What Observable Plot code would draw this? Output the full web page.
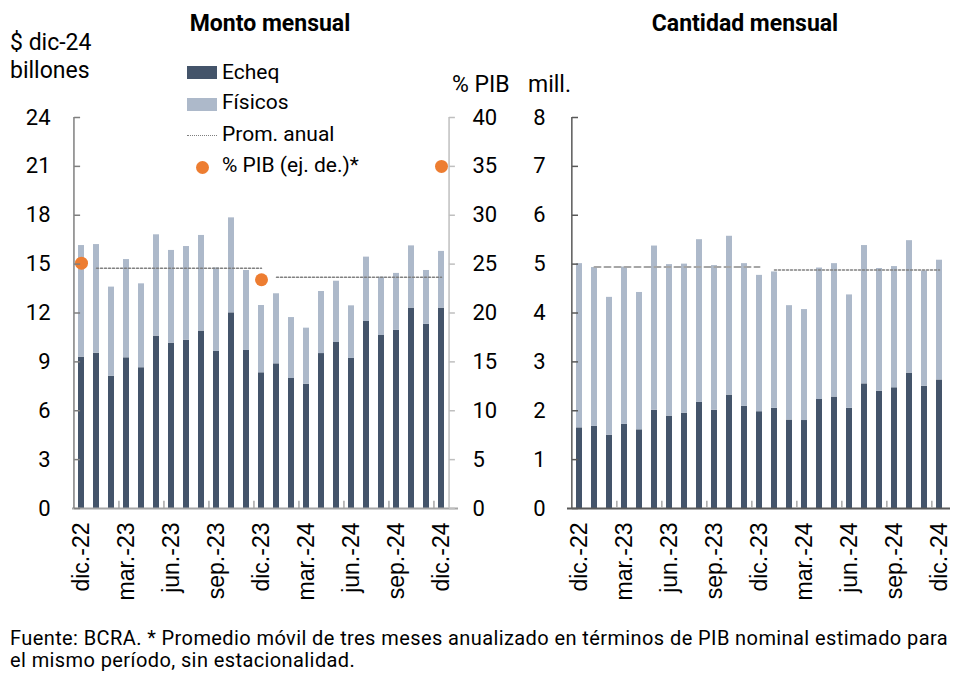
<!DOCTYPE html>
<html>
<head>
<meta charset="utf-8">
<script src="https://cdn.jsdelivr.net/npm/d3@7"></script>
<script src="https://cdn.jsdelivr.net/npm/@observablehq/plot@0.6"></script>
<style>
  body { margin: 0; background: #fff; }
  #wrap { position: relative; width: 960px; height: 679px; font-family: Roboto, sans-serif; color: #000; overflow: hidden; }
  .t { position: absolute; white-space: nowrap; line-height: 1; }
  .chart { position: absolute; top: 0; }
</style>
</head>
<body>
<div id="wrap">
  <div id="left" class="chart" style="left:0"></div>
  <div id="right" class="chart" style="left:480px"></div>
  <div class="t" style="left:0;width:540px;text-align:center;top:11.6px;font-size:23px;font-weight:bold;">Monto mensual</div>
  <div class="t" style="left:545px;width:400px;text-align:center;top:11.6px;font-size:23px;font-weight:bold;">Cantidad mensual</div>
  <div class="t" style="left:10px;top:30.6px;font-size:23px;">$ dic-24</div>
  <div class="t" style="left:10px;top:58.6px;font-size:23px;">billones</div>
  <div class="t" style="left:452px;top:72.6px;font-size:23px;">% PIB</div>
  <div class="t" style="left:528px;top:72.6px;font-size:23px;">mill.</div>
  <!-- legend -->
  <div style="position:absolute;left:187px;top:66px;width:30px;height:13px;background:#44546a"></div>
  <div style="position:absolute;left:187px;top:98px;width:30px;height:13px;background:#adb9ca"></div>
  <div style="position:absolute;left:187px;top:135px;width:30px;height:0;border-top:1.5px dotted #7f7f7f"></div>
  <div style="position:absolute;left:195.5px;top:160.5px;width:13px;height:13px;border-radius:50%;background:#ed7d31"></div>
  <div class="t" style="left:222px;top:62.3px;font-size:21px;">Echeq</div>
  <div class="t" style="left:222px;top:92.3px;font-size:21px;">Físicos</div>
  <div class="t" style="left:222px;top:124.3px;font-size:21px;">Prom. anual</div>
  <div class="t" style="left:222px;top:155.3px;font-size:21px;">% PIB (ej. de.)*</div>
  <div class="t" style="left:10px;top:627.2px;font-size:20px;line-height:22px;">
    <span id="f1">Fuente: BCRA. * Promedio móvil de tres meses anualizado en términos de PIB nominal estimado para</span><br>
    <span id="f2">el mismo período, sin estacionalidad.</span>
  </div>
</div>
<script>
// ---------- data ----------
const months = ["dic.-22","ene.-23","feb.-23","mar.-23","abr.-23","may.-23","jun.-23","jul.-23","ago.-23","sep.-23","oct.-23","nov.-23","dic.-23","ene.-24","feb.-24","mar.-24","abr.-24","may.-24","jun.-24","jul.-24","ago.-24","sep.-24","oct.-24","nov.-24","dic.-24"];
const tickLabels = ["dic.-22","mar.-23","jun.-23","sep.-23","dic.-23","mar.-24","jun.-24","sep.-24","dic.-24"];
const tickBoundaries = ["mar.-23","jun.-23","sep.-23","dic.-23","mar.-24","jun.-24","sep.-24","dic.-24"];
const series = ["Echeq", "Físicos"];

// Monto mensual ($ dic-24 billones)
const montoEcheq   = [9.29,9.53,8.12,9.25,8.64,10.58,10.15,10.33,10.89,9.64,12.01,9.70,8.33,8.88,7.98,7.63,9.51,10.19,9.21,11.48,10.62,10.93,12.30,11.30,12.30];
const montoFisicos = [6.85,6.67,5.47,6.03,5.15,6.22,5.69,5.75,5.87,5.13,5.83,4.91,4.13,4.30,3.74,3.44,3.81,3.76,3.23,3.95,3.58,3.50,3.82,3.31,3.48];
const montoProm = [14.75, 14.2];            // 2023, 2024
const pibMonths = ["dic.-22","dic.-23","dic.-24"];
const pibValues = [25.1, 23.4, 35.0];       // % PIB (right axis)

// Cantidad mensual (mill.)
const cantEcheq   = [1.65,1.68,1.50,1.72,1.61,2.01,1.89,1.95,2.17,2.01,2.32,2.09,1.98,2.05,1.81,1.80,2.23,2.28,2.05,2.55,2.40,2.47,2.77,2.50,2.63];
const cantFisicos = [3.36,3.25,2.82,3.22,2.81,3.36,3.10,3.05,3.33,2.96,3.25,2.92,2.79,2.79,2.34,2.27,2.69,2.73,2.32,2.83,2.51,2.48,2.71,2.36,2.45];
const cantProm = [4.94, 4.88];              // 2023, 2024

const yearMonths = [months.slice(1, 13), months.slice(13, 25)];

// ---------- helpers ----------
const colors = ["#44546a", "#adb9ca"];
function stackRows(a, b) {
  return [
    ...months.map((m, i) => ({month: m, serie: series[0], value: a[i]})),
    ...months.map((m, i) => ({month: m, serie: series[1], value: b[i]}))
  ];
}
function promRows(vals, k) {
  return yearMonths[k].map(m => ({month: m, value: vals[k]}));
}
const xFont = "'Liberation Sans', Arial, sans-serif";

// ---------- left chart ----------
const stepL = 378 / 25;
const ticksL = d3.range(0, 25, 3);
const left = Plot.plot({
  width: 480, height: 600,
  marginLeft: 72, marginRight: 30, marginTop: 117, marginBottom: 92,
  style: {background: "transparent", overflow: "visible", fontFamily: "Roboto, sans-serif", fontSize: "22px", color: "#000"},
  x: {type: "band", domain: months, paddingInner: 0.6, paddingOuter: 0.3, axis: null},
  y: {domain: [0, 24], axis: null},
  color: {domain: series, range: colors},
  marks: [
    Plot.barY(stackRows(montoEcheq, montoFisicos), {x: "month", y: "value", fill: "serie"}),
    Plot.lineY(promRows(montoProm, 0), {x: "month", y: "value", stroke: "#7f7f7f", strokeWidth: 1.5, strokeDasharray: "2,2"}),
    Plot.lineY(promRows(montoProm, 1), {x: "month", y: "value", stroke: "#7f7f7f", strokeWidth: 1.5, strokeDasharray: "2,2"}),
    Plot.dot(pibMonths.map((m, i) => ({month: m, v: pibValues[i]})), {x: "month", y: d => d.v * 24 / 40, r: 6.5, fill: "#ed7d31"}),
    // axis lines
    Plot.ruleY([0], {stroke: "#a6a6a6", strokeWidth: 2, insetRight: -8}),
    Plot.ruleX([months[0]], {y1: 0, y2: 24, dx: -stepL / 2, stroke: "#7f7f7f", strokeWidth: 1.5}),
    Plot.ruleX([months[24]], {y1: 0, y2: 24, dx: stepL / 2, stroke: "#bfbfbf", strokeWidth: 1.5}),
    Plot.tickY(ticksL, {x: () => months[0], y: d => d, dx: -3.9, stroke: "#7f7f7f", strokeWidth: 1.5}),
    Plot.tickY(ticksL, {x: () => months[24], y: d => d, dx: 10.9, stroke: "#bfbfbf", strokeWidth: 1.5}),
    Plot.ruleX(tickBoundaries, {x: d => d, y1: 0, y2: 0.45, dx: -stepL / 2, stroke: "#a6a6a6", strokeWidth: 1.5}),
    // axes labels
    Plot.axisY(ticksL, {anchor: "left", label: null, tickSize: 0, tickPadding: 22, fontSize: 22}),
    Plot.axisY(ticksL, {anchor: "right", label: null, tickSize: 0, tickPadding: 22, fontSize: 22, tickFormat: d => d * 40 / 24}),
    Plot.axisX(tickLabels, {anchor: "bottom", label: null, tickSize: 0, tickPadding: 14, tickRotate: -90, fontSize: 23, fontFamily: xFont})
  ]
});
document.getElementById("left").appendChild(left);

// ---------- right chart ----------
const stepR = 383 / 25;
const ticksR = d3.range(0, 9, 1);
const right = Plot.plot({
  width: 480, height: 600,
  marginLeft: 87, marginRight: 10, marginTop: 117, marginBottom: 92,
  style: {background: "transparent", overflow: "visible", fontFamily: "Roboto, sans-serif", fontSize: "22px", color: "#000"},
  x: {type: "band", domain: months, paddingInner: 0.6, paddingOuter: 0.3, axis: null},
  y: {domain: [0, 8], axis: null},
  color: {domain: series, range: colors},
  marks: [
    Plot.barY(stackRows(cantEcheq, cantFisicos), {x: "month", y: "value", fill: "serie"}),
    Plot.lineY(promRows(cantProm, 0), {x: "month", y: "value", stroke: "#a6a6a6", strokeWidth: 2, strokeDasharray: "6,4"}),
    Plot.lineY(promRows(cantProm, 1), {x: "month", y: "value", stroke: "#7f7f7f", strokeWidth: 1.5, strokeDasharray: "2,2"}),
    Plot.ruleY([0], {stroke: "#595959", strokeWidth: 2}),
    Plot.ruleX([months[0]], {y1: 0, y2: 8, dx: -stepR / 2, stroke: "#595959", strokeWidth: 1.5}),
    Plot.tickY(ticksR, {x: () => months[0], y: d => d, dx: -4, stroke: "#595959", strokeWidth: 1.5}),
    Plot.ruleX(tickBoundaries, {x: d => d, y1: 0, y2: 0.15, dx: -stepR / 2, stroke: "#a6a6a6", strokeWidth: 1.5}),
    Plot.axisY(ticksR, {anchor: "left", label: null, tickSize: 0, tickPadding: 22, fontSize: 22}),
    Plot.axisX(tickLabels, {anchor: "bottom", label: null, tickSize: 0, tickPadding: 14, tickRotate: -90, fontSize: 23, fontFamily: xFont})
  ]
});
document.getElementById("right").appendChild(right);

// stretch footer first line to the reference width
function fitFooter() {
  const f1 = document.getElementById("f1");
  const f2 = document.getElementById("f2");
  const n = f1.textContent.length;
  f1.style.letterSpacing = "0px";
  const w = f1.getBoundingClientRect().width;
  const ls = (938 - w) / n;
  f1.style.letterSpacing = ls + "px";
  f2.style.letterSpacing = ls + "px";
}
fitFooter();
if (document.fonts && document.fonts.ready) document.fonts.ready.then(fitFooter);
</script>
</body>
</html>
